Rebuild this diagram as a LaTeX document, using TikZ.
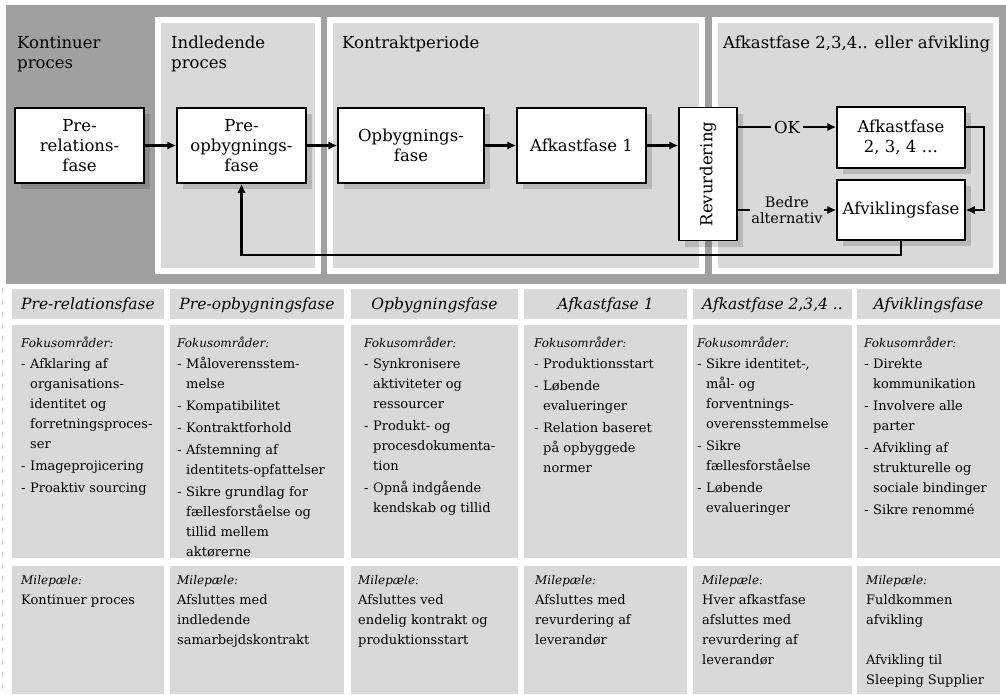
\documentclass[tikz,border=0pt]{standalone}
\usepackage{fontspec}
\setmainfont{DejaVu Serif}
\usepackage{graphicx}
\usetikzlibrary{arrows.meta,shadows}

\definecolor{bandgray}{RGB}{160,160,160}
\definecolor{panelgray}{RGB}{217,217,217}

\newcommand{\boxfont}{\fontsize{16.5}{20}\selectfont}
\newcommand{\lblfont}{\fontsize{14.5}{16}\selectfont}
\newcommand{\cellfont}{\fontsize{13}{20}\selectfont}
\newcommand{\headfont}{\fontsize{15.5}{18}\selectfont\itshape}
\newcommand{\fokhd}{{\fontsize{12}{20}\selectfont\itshape Fokusområder:}}
\newcommand{\milehd}{{\fontsize{12}{20}\selectfont\itshape Milepæle:}}
\newcommand{\fokcell}[1]{\begin{tabular}{@{}p{9pt}@{}l@{}}\multicolumn{2}{@{}l@{}}{\fokhd}\\[1pt] #1\end{tabular}}
\newcommand{\milecell}[1]{\begin{tabular}{@{}l@{}}\milehd\\ #1\end{tabular}}

\tikzset{
  phase/.style={draw, line width=1.5pt, fill=white, align=center, font=\boxfont,
    inner sep=2pt, minimum width=129pt, minimum height=75pt,
    drop shadow={shadow xshift=6pt, shadow yshift=-6pt, opacity=0.15, fill=black}},
  conn/.style={line width=2.3pt, -{Latex[length=9pt,width=8.5pt]}},
  lbl/.style={fill=panelgray, inner sep=3pt, font=\boxfont},
  title/.style={anchor=north west, inner sep=0pt, align=left, font=\boxfont},
  hdtext/.style={anchor=base, inner sep=0pt, font=\headfont},
  celltext/.style={anchor=north west, inner sep=0pt, font=\cellfont}
}

\begin{document}
\begin{tikzpicture}[x=1pt,y=-1pt]
  \useasboundingbox (0,0) rectangle (1006,694);

  % dark band behind the process
  \fill[bandgray] (6,5) rectangle (1006,284);

  % white framed panels
  \fill[white] (155,17) rectangle (321,274);
  \fill[panelgray] (161,23) rectangle (315,268);
  \fill[white] (327,17) rectangle (705,274);
  \fill[panelgray] (333,23) rectangle (699,268);
  \fill[white] (712,17) rectangle (999,274);
  \fill[panelgray] (718,23) rectangle (993,268);

  % panel titles
  \node[title] (t1) at (17,36) {Kontinuer\\proces};
  \node[title] (t2) at (171,36) {Indledende\\proces};
  \node[title] (t3) at (342,36) {Kontraktperiode};
  \node[title] (t4) at (723,36) {Afkastfase 2,3,4.. eller afvikling};

  % phases
  \node[phase] (prerel) at (79.5,145.5) {Pre-\\relations-\\fase};
  \node[phase] (preopb) at (241.5,145.5) {Pre-\\opbygnings-\\fase};
  \node[phase, minimum width=146pt] (opbyg) at (411,145.5) {Opbygnings-\\fase};
  \node[phase] (afk1) at (581.5,145.5) {Afkastfase 1};
  \node[phase, minimum width=58pt, minimum height=133pt] (revurd) at (708,174) {\rotatebox{90}{Revurdering}};
  \node[phase, minimum width=128pt, minimum height=61pt] (afk2) at (901,137.5) {Afkastfase\\2, 3, 4 \dots};
  \node[phase, minimum width=128pt, minimum height=60pt] (afvik) at (901,210) {Afviklingsfase};

  % connectors
  \coordinate (oky) at (0,127);
  \draw[conn] (prerel) -- (preopb);
  \draw[conn] (preopb) -- (opbyg);
  \draw[conn] (opbyg) -- (afk1);
  \draw[conn] (afk1) -- (afk1 -| revurd.west);
  \draw[conn] (revurd.east |- oky) -- node[lbl] {OK} (afk2.west |- oky);
  \draw[conn] (revurd.east |- afvik) -- node[lbl, font=\lblfont, align=center, inner sep=1pt] {Bedre\\alternativ} (afvik.west);
  \draw[conn] (afk2.east |- oky) -- ++(18,0) |- (afvik.east);
  \draw[conn] (afvik.south) -- ++(0,14) -| (preopb.south);

  % table cells
  \foreach \xa/\xb in {12/164,170/344,351/518,524/687,693/852,857/1000} {
    \fill[panelgray] (\xa,289) rectangle (\xb,319);
    \fill[panelgray] (\xa,325) rectangle (\xb,558);
    \fill[panelgray] (\xa,566) rectangle (\xb,694);
  }
  \draw[gray!40, dash pattern=on 5pt off 7pt] (2,288) -- (2,694);

  % column headers
  \foreach \xc/\txt [count=\i] in {88/Pre-relationsfase, 257/Pre-opbygningsfase,
      434.5/Opbygningsfase, 605.5/Afkastfase 1, 772.5/{Afkastfase 2,3,4 ..}, 928.5/Afviklingsfase}
    \node[hdtext] (hd\i) at (\xc,309) {\txt};

  % focus areas
  \node[celltext] (fok1) at (21,333) {\fokcell{
    - & Afklaring af\\ & organisations-\\ & identitet og\\ & forretningsproces-\\ & ser\\[2pt]
    - & Imageprojicering\\[2pt]
    - & Proaktiv sourcing}};
  \node[celltext] (fok2) at (177,333) {\fokcell{
    - & Måloverensstem-\\ & melse\\[2pt]
    - & Kompatibilitet\\[2pt]
    - & Kontraktforhold\\[2pt]
    - & Afstemning af\\ & identitets-opfattelser\\[2pt]
    - & Sikre grundlag for\\ & fællesforståelse og\\ & tillid mellem\\ & aktørerne}};
  \node[celltext] (fok3) at (364,333) {\fokcell{
    - & Synkronisere\\ & aktiviteter og\\ & ressourcer\\[2pt]
    - & Produkt- og\\ & procesdokumenta-\\ & tion\\[2pt]
    - & Opnå indgående\\ & kendskab og tillid}};
  \node[celltext] (fok4) at (534,333) {\fokcell{
    - & Produktionsstart\\[2pt]
    - & Løbende\\ & evalueringer\\[2pt]
    - & Relation baseret\\ & på opbyggede\\ & normer}};
  \node[celltext] (fok5) at (697,333) {\fokcell{
    - & Sikre identitet-,\\ & mål- og\\ & forventnings-\\ & overensstemmelse\\[2pt]
    - & Sikre\\ & fællesforståelse\\[2pt]
    - & Løbende\\ & evalueringer}};
  \node[celltext] (fok6) at (864,333) {\fokcell{
    - & Direkte\\ & kommunikation\\[2pt]
    - & Involvere alle\\ & parter\\[2pt]
    - & Afvikling af\\ & strukturelle og\\ & sociale bindinger\\[2pt]
    - & Sikre renommé}};

  % milestones
  \node[celltext] (mil1) at (21,570) {\milecell{Kontinuer proces}};
  \node[celltext] (mil2) at (177,570) {\milecell{Afsluttes med\\ indledende\\ samarbejdskontrakt}};
  \node[celltext] (mil3) at (358,570) {\milecell{Afsluttes ved\\ endelig kontrakt og\\ produktionsstart}};
  \node[celltext] (mil4) at (535,570) {\milecell{Afsluttes med\\ revurdering af\\ leverandør}};
  \node[celltext] (mil5) at (702,570) {\milecell{Hver afkastfase\\ afsluttes med\\ revurdering af\\ leverandør}};
  \node[celltext] (mil6) at (866,570) {\milecell{Fuldkommen\\ afvikling\\ \\ Afvikling til\\ Sleeping Supplier}};
\end{tikzpicture}
\end{document}
